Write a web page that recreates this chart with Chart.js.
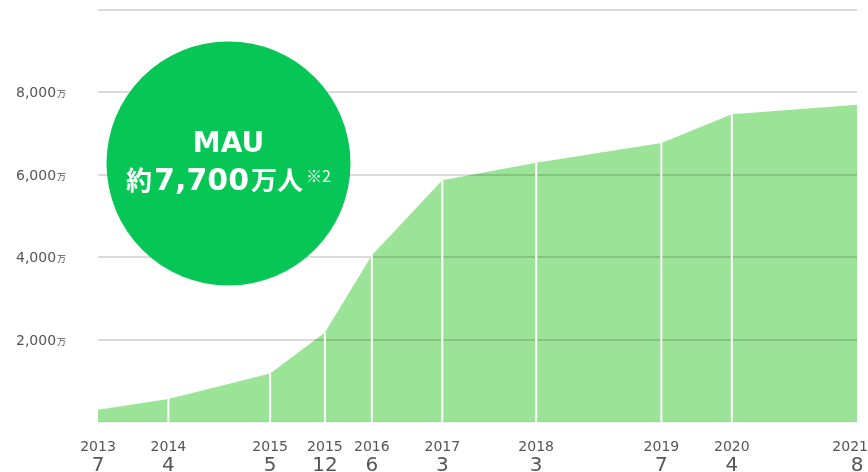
<!DOCTYPE html>
<html><head><meta charset="utf-8">
<script src="https://cdn.jsdelivr.net/npm/chart.js@4"></script>
<style>html,body{margin:0;padding:0;background:#fff;} canvas{display:block;}</style>
</head><body>
<canvas id="c" width="868" height="472"></canvas>
<script>
// ---- data ----
const years  = [2013, 2014, 2015, 2015, 2016, 2017, 2018, 2019, 2020, 2021];
const months = [7, 4, 5, 12, 6, 3, 3, 7, 4, 8];
const mau    = [300, 560, 1180, 2170, 4050, 5870, 6290, 6770, 7470, 7700]; // 万人
const yTicks = [2000, 4000, 6000, 8000];
const yTickLabels = ['2,000', '4,000', '6,000', '8,000'];
const unitLabel = '万';
const badgeTitle = 'MAU';
const badgeParts = ['約', '7,700', '万人', '※2'];

// month offset from the first category (time axis)
const monthIdx = years.map((y, i) => (y - years[0]) * 12 + months[i] - months[0]);
const points = monthIdx.map((m, i) => ({ x: m, y: mau[i] }));

const overlay = {
  id: 'overlay',
  afterDraw(chart) {
    const ctx = chart.ctx, xs = chart.scales.x, ys = chart.scales.y;
    const meta = chart.getDatasetMeta(0);
    const base = ys.getPixelForValue(0);
    ctx.save();
    // white separators at each data point
    ctx.strokeStyle = '#ffffff';
    ctx.lineWidth = 2;
    meta.data.forEach((pt, i) => {
      if (i === 0 || i === meta.data.length - 1) return;
      ctx.beginPath();
      ctx.moveTo(pt.x, pt.y);
      ctx.lineTo(pt.x, base);
      ctx.stroke();
    });

    // y labels
    ctx.fillStyle = '#555555';
    ctx.textBaseline = 'alphabetic';
    ctx.textAlign = 'left';
    yTicks.forEach((v, i) => {
      const y = ys.getPixelForValue(v) + 5;
      ctx.font = '14px "DejaVu Sans"';
      ctx.fillText(yTickLabels[i], 16, y);
      const w = ctx.measureText(yTickLabels[i]).width;
      ctx.font = '9px "Noto Sans CJK JP"';
      ctx.fillText(unitLabel, 16 + w + 1, y);
    });

    // x labels (year / month)
    const W = chart.width;
    ctx.textAlign = 'center';
    monthIdx.forEach((m, i) => {
      const px = xs.getPixelForValue(m);
      ctx.font = '14px "DejaVu Sans"';
      let t = String(years[i]);
      let w = ctx.measureText(t).width;
      let x = Math.min(Math.max(px, w / 2), W - w / 2);
      ctx.fillText(t, x, 451);
      ctx.font = '20px "DejaVu Sans"';
      t = String(months[i]);
      w = ctx.measureText(t).width;
      x = Math.min(Math.max(px, w / 2), W - w / 2);
      ctx.fillText(t, x, 471);
    });

    // badge circle
    const cx = 228.5, cy = 163.5, r = 122;
    ctx.fillStyle = '#06c755';
    ctx.beginPath();
    ctx.arc(cx, cy, r, 0, Math.PI * 2);
    ctx.fill();
    ctx.fillStyle = '#ffffff';
    ctx.textAlign = 'center';
    ctx.font = 'bold 28px "DejaVu Sans"';
    ctx.fillText(badgeTitle, cx, 152);
    const fonts = ['bold 26px "Noto Sans CJK JP"', 'bold 30px "DejaVu Sans"', 'bold 26px "Noto Sans CJK JP"', '16px "Noto Sans CJK JP"'];
    const gaps = [2, 2, 3, 0];
    const widths = badgeParts.map((p, i) => { ctx.font = fonts[i]; return ctx.measureText(p).width; });
    const total = widths.reduce((a, b) => a + b, 0) + gaps.reduce((a, b) => a + b, 0);
    let x = cx - total / 2;
    ctx.textAlign = 'left';
    badgeParts.forEach((p, i) => {
      ctx.font = fonts[i];
      ctx.fillText(p, x, i === 3 ? 182 : 190);
      x += widths[i] + gaps[i];
    });
    ctx.restore();
  }
};

new Chart(document.getElementById('c'), {
  type: 'line',
  data: {
    datasets: [{
      data: points,
      fill: 'origin',
      backgroundColor: '#9be396',
      borderWidth: 0,
      borderColor: 'rgba(0,0,0,0)',
      pointRadius: 0,
      tension: 0
    }]
  },
  options: {
    responsive: false,
    animation: false,
    devicePixelRatio: 1,
    layout: { padding: { left: 98, right: 11, top: 10, bottom: 50 } },
    plugins: { legend: { display: false }, tooltip: { enabled: false } },
    scales: {
      x: { type: 'linear', min: 0, max: monthIdx[monthIdx.length - 1], display: false },
      y: {
        min: 0, max: 10000,
        ticks: { display: false, stepSize: 2000 },
        border: { display: false },
        grid: {
          z: 1,
          lineWidth: 2,
          drawTicks: false,
          color: c => c.tick && c.tick.value === 0 ? 'rgba(0,0,0,0.04)' : 'rgba(0,0,0,0.14)'
        },
        afterFit: s => { s.width = 0; }
      }
    }
  },
  plugins: [overlay]
});
</script>
</body></html>
